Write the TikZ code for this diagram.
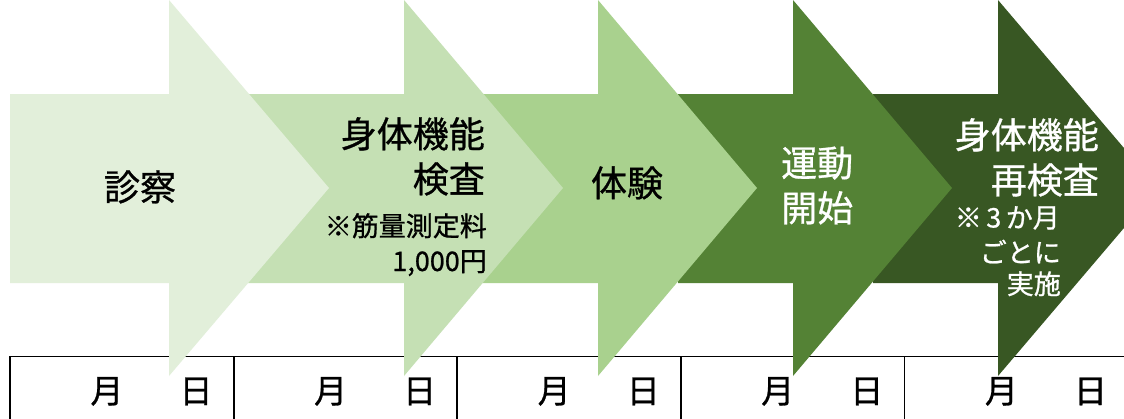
\documentclass[tikz,border=0pt]{standalone}
\usepackage{fontspec}
\setmainfont{Noto Sans CJK JP}[FakeBold=0.8]
\definecolor{gA}{HTML}{E2EFDA}
\definecolor{gB}{HTML}{C5E0B4}
\definecolor{gC}{HTML}{A9D18E}
\definecolor{gD}{HTML}{548235}
\definecolor{gE}{HTML}{385723}
\tikzset{
  big/.style={inner sep=0pt, font=\fontsize{36}{44}\selectfont},
  small/.style={inner sep=0pt, font=\fontsize{27}{33}\selectfont},
  cell/.style={inner sep=0pt, font=\fontsize{33}{40}\selectfont, anchor=base},
  tbl/.style={draw=black, line width=1.8pt},
}
% arrow: body start, head start, tip
\newcommand{\myarrow}[4]{%
  \fill[#1] (#2,94) -- (#3,94) -- (#3,0) -- (#4,188) -- (#3,376) -- (#3,283) -- (#2,283) -- cycle;}
\begin{document}
\begin{tikzpicture}[x=1pt,y=-1pt]
\useasboundingbox (0,0) rectangle (1124,418);
\fill[white] (0,0) rectangle (1124,418);
\clip (0,0) rectangle (1124,418);
% table
\foreach \i in {0,...,4} {
  \pgfmathsetmacro{\xa}{10+223.6*\i}
  \draw[tbl] (\xa,356.5) rectangle (\xa+223.6,440);
  \node[cell] (m\i) at (\xa+97,403) {月};
  \node[cell] (d\i) at (\xa+186,403) {日};
}
% arrows (drawn last-to-first)
\myarrow{gE}{873}{998}{1158}
\myarrow{gD}{678}{793}{952}
\myarrow{gC}{450}{598}{757}
\myarrow{gB}{248}{404}{563}
\myarrow{gA}{10}{169}{329}
% texts
\node[big, anchor=base] (t1) at (140,200.5) {診察};
\node[big, anchor=base east] (t2a) at (485,147.5) {身体機能};
\node[big, anchor=base east] (t2b) at (485,192.5) {検査};
\node[small, anchor=base east] (t2c) at (487,236) {※筋量測定料};
\node[small, anchor=base east] (t2d) at (487,271) {1,000円};
\node[big, anchor=base] (t3) at (627,196.5) {体験};
\node[big, anchor=base west, text=white] (t4a) at (781,176.5) {運動};
\node[big, anchor=base west, text=white] (t4b) at (781,221.5) {開始};
\node[big, anchor=base east, text=white] (t5a) at (1099,148.5) {身体機能};
\node[big, anchor=base east, text=white] (t5b) at (1099,193.5) {再検査};
\node[small, anchor=base east, text=white] (t5c) at (1060,227.5) {※\,3\,か月};
\node[small, anchor=base east, text=white] (t5d) at (1061,262.5) {ごとに};
\node[small, anchor=base east, text=white] (t5e) at (1061,294) {実施};
\end{tikzpicture}
\end{document}
